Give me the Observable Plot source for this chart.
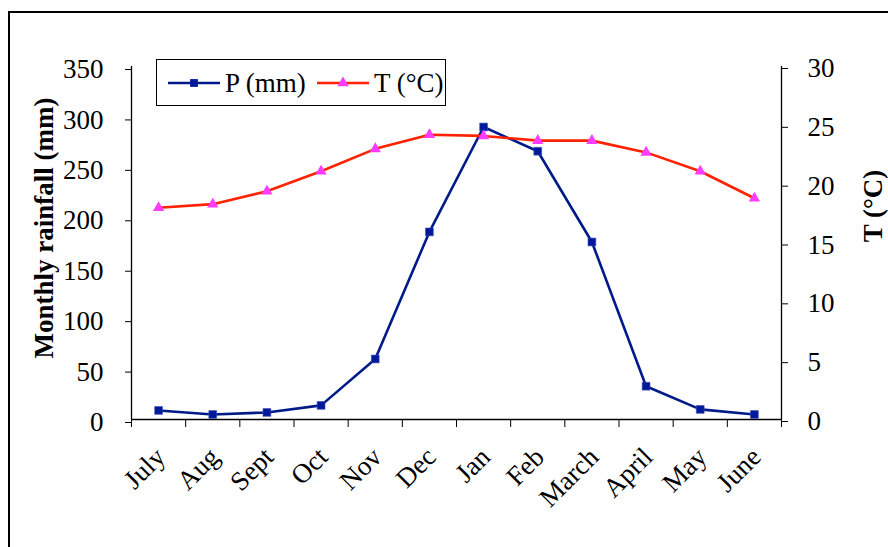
<!DOCTYPE html>
<html><head><meta charset="utf-8">
<script src="https://cdn.jsdelivr.net/npm/d3@7"></script>
<script src="https://cdn.jsdelivr.net/npm/@observablehq/plot@0.6"></script>
<style>
body{margin:0;background:#fff;}
#wrap{position:relative;width:888px;height:547px;overflow:hidden;font-family:"Liberation Serif","Times New Roman",serif;}
#border{position:absolute;left:8px;top:11px;width:1000px;height:1000px;border:2px solid #000;box-sizing:border-box;pointer-events:none;}
#chart{position:absolute;left:0;top:0;}
#legend{position:absolute;left:156px;top:59px;width:290px;height:47px;border:1px solid #000;background:#fff;box-sizing:border-box;}
</style></head>
<body>
<div id="wrap"><div id="chart"></div><div id="border"></div><div id="legend"></div></div>
<script>
const months = ["July","Aug","Sept","Oct","Nov","Dec","Jan","Feb","March","April","May","June"];
const rainfall = [9, 5, 7, 14, 60, 186, 290, 266, 176, 33, 10, 5];
const temperature = [18.0, 18.3, 19.4, 21.1, 23.0, 24.2, 24.1, 23.7, 23.7, 22.7, 21.1, 18.8];
const rainTicks = [0, 50, 100, 150, 200, 250, 300, 350];
const tempTicks = [0, 5, 10, 15, 20, 25, 30];
const seriesNames = ["P (mm)", "T (°C)"];
const yTitle = "Monthly rainfall (mm)";
const y2Title = "T (°C)";

const blue = "#001a8a", blueMark = "#00189a", red = "#ff2200", pink = "#ff3cff";
const k = 350 / 30;
const data = months.map((m, i) => ({month: m, i: i + 0.5, P: rainfall[i], T: temperature[i] * k}));

const chart = Plot.plot({
  width: 888, height: 547,
  marginLeft: 131, marginRight: 107, marginTop: 66, marginBottom: 128,
  style: {fontFamily: "'Liberation Serif','Times New Roman',serif", fontSize: "27px", color: "#000", background: "transparent", overflow: "visible"},
  x: {type: "linear", domain: [0, 12]},
  y: {domain: [0, 350]},
  marks: [
    Plot.axisY({ticks: rainTicks, tickSize: 6, tickPadding: 22, label: null, dy: 3, tickFormat: d => String(d), stroke: "#000"}),
    Plot.axisY({anchor: "right", ticks: tempTicks.map(t => t * k), tickSize: 6, tickPadding: 20, dy: 2, label: null, tickFormat: d => String(Math.round(d / k)), stroke: "#000"}),
    Plot.axisX({ticks: d3.range(0, 13), tickFormat: () => "", tickSize: 8, label: null, stroke: "#000"}),
    Plot.axisX({ticks: months.map((_, i) => i + 0.5), tickFormat: d => months[Math.round(d - 0.5)], tickSize: 0, tickPadding: 33, tickRotate: -45, label: null, dx: 2}),
    Plot.ruleX([0, 12], {stroke: "#000", strokeWidth: 1.3}),
    Plot.ruleY([0], {stroke: "#000", strokeWidth: 1.3}),
    Plot.text([yTitle], {frameAnchor: "left", textAnchor: "middle", rotate: -90, dx: -87, dy: -15, fontWeight: "bold", fontSize: 27}),
    Plot.text([y2Title], {frameAnchor: "right", textAnchor: "middle", rotate: -90, dx: 92, dy: -37, fontWeight: "bold", fontSize: 27}),
    Plot.line(data, {x: "i", y: "P", stroke: blue, strokeWidth: 2.6}),
    Plot.dot(data, {x: "i", y: "P", symbol: "square", r: 4.4, fill: blueMark, stroke: "#3a4fb0", strokeWidth: 0.6}),
    Plot.line(data, {x: "i", y: "T", stroke: red, strokeWidth: 2.6}),
    Plot.dot(data, {x: "i", y: "T", symbol: "triangle", r: 4.2, fill: pink})
  ]
});
document.getElementById("chart").appendChild(chart);

// legend
const lg = d3.select("#legend").append("svg").attr("width", 290).attr("height", 47)
  .style("position", "absolute").style("left", "-1px").style("top", "-1px")
  .style("font-family", "'Liberation Serif','Times New Roman',serif").style("font-size", "27px");
const items = [
  {name: seriesNames[0], color: blue, mark: "square", fill: blueMark, x: 12},
  {name: seriesNames[1], color: red, mark: "triangle", fill: pink, x: 161}
];
items.forEach(it => {
  lg.append("line").attr("x1", it.x).attr("x2", it.x + 52).attr("y1", 24).attr("y2", 24).attr("stroke", it.color).attr("stroke-width", 2.6);
  const sym = it.mark === "square" ? d3.symbolSquare : d3.symbolTriangle;
  const size = it.mark === "square" ? Math.PI * 4.4 * 4.4 : Math.PI * 4.2 * 4.2;
  lg.append("path").attr("d", d3.symbol(sym, size)()).attr("transform", `translate(${it.x + 26},24)`).attr("fill", it.fill);
  lg.append("text").attr("x", it.x + 57).attr("y", 24).attr("dy", "0.33em").text(it.name);
});
</script>
</body></html>
